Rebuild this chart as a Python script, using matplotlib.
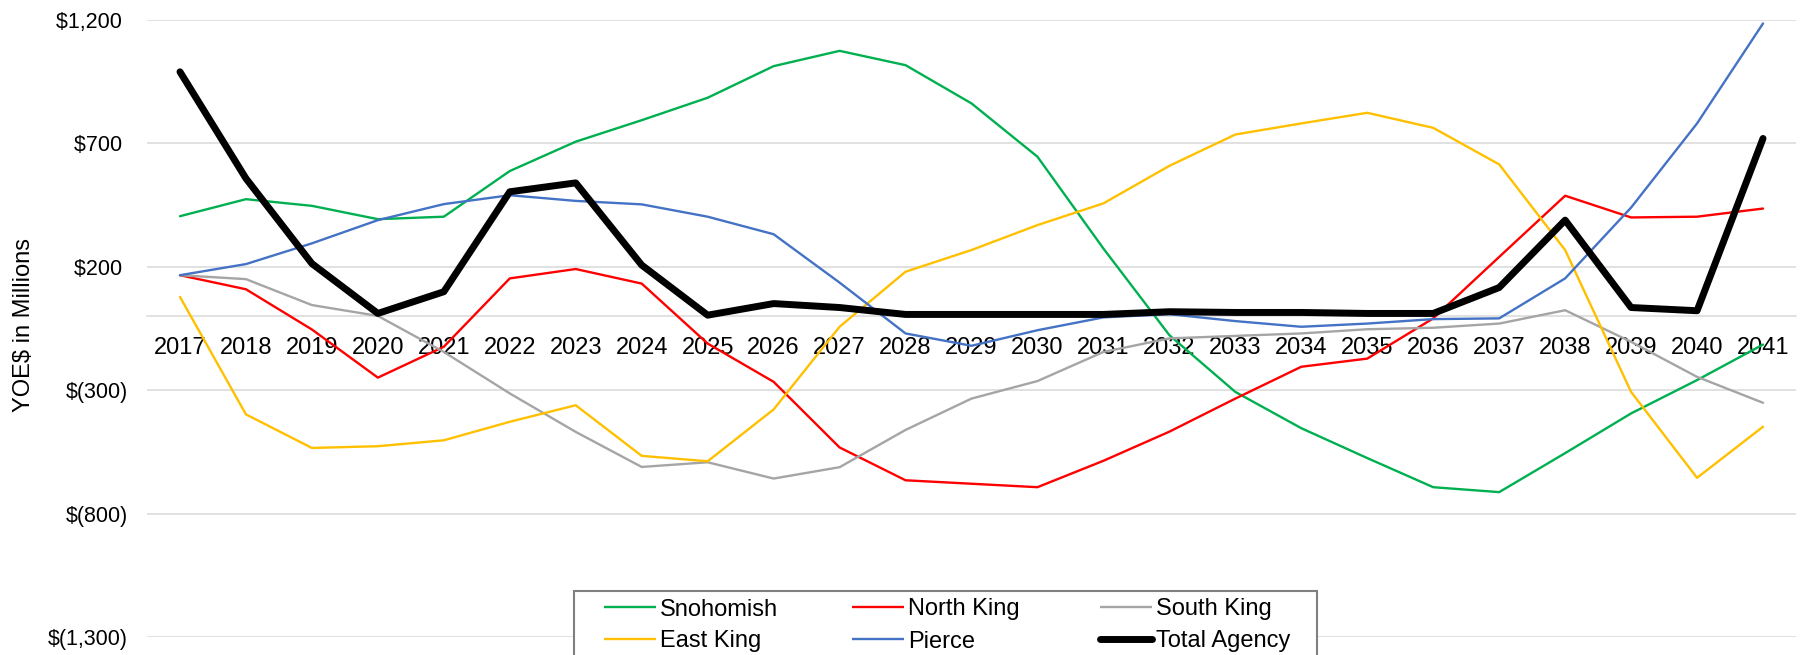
import matplotlib
matplotlib.use("Agg")
import matplotlib.pyplot as plt
from matplotlib.lines import Line2D
from matplotlib.patches import Rectangle
from matplotlib.ticker import FuncFormatter

# ---------------- data ----------------
years = list(range(2017, 2042))
year_labels = [str(y) for y in years]

snohomish = [405, 474, 447, 393, 403, 588, 707, 794, 885, 1013, 1075, 1017, 862,
             646, 274, -77, -307, -454, -575, -693, -713, -555, -394, -259, -115]
north_king = [166, 109, -54, -249, -124, 153, 191, 132, -111, -266, -532, -665, -679,
              -693, -586, -468, -334, -205, -172, -9, 240, 488, 400, 403, 436]
south_king = [166, 150, 45, 1, -145, -313, -469, -611, -592, -658, -612, -461, -334,
              -263, -145, -90, -80, -70, -53, -47, -30, 24, -104, -246, -351]
east_king = [78, -398, -534, -527, -503, -428, -361, -566, -588, -378, -43, 180, 268,
             369, 457, 609, 736, 781, 824, 763, 615, 268, -307, -655, -448]
pierce = [166, 211, 295, 389, 454, 490, 467, 453, 403, 332, 136, -70, -120,
          -57, -5, 8, -20, -43, -30, -12, -9, 153, 440, 781, 1186]
total_agency = [990, 558, 213, 11, 99, 504, 540, 207, 4, 51, 35, 7, 7,
                7, 7, 18, 15, 15, 11, 11, 116, 389, 35, 22, 720]

series_names = ["Snohomish", "North King", "South King", "East King", "Pierce", "Total Agency"]
series_values = [snohomish, north_king, south_king, east_king, pierce, total_agency]
series_colors = ["#00B050", "#FF0000", "#A5A5A5", "#FFC000", "#4472C4", "#000000"]
series_widths = [1.7, 1.7, 1.7, 1.7, 1.7, 5.0]

y_ticks = [-1300, -800, -300, 200, 700, 1200]
y_label = "YOE\\$ in Millions"

# ---------------- style ----------------
plt.rcParams["font.family"] = ["Liberation Sans", "DejaVu Sans"]

W, H = 1807, 655
fig = plt.figure(figsize=(W / 100, H / 100), dpi=100)
fig.patch.set_facecolor("white")


def fx(px):
    return px / W


def fy(py):
    return 1 - py / H


ax = fig.add_axes([fx(147), fy(637), (1796 - 147) / W, (637 - 20) / H])

for name, vals, col, lw in zip(series_names, series_values, series_colors, series_widths):
    ax.plot(years, vals, color=col, lw=lw, solid_capstyle="round",
            solid_joinstyle="round", zorder=3 if name != "Total Agency" else 4)

ax.set_xlim(2016.5, 2041.5)
ax.set_ylim(-1300, 1200)
ax.set_yticks(y_ticks)
ax.set_xticks(years)
ax.set_xticklabels(year_labels)


def money(v, pos=None):
    v = int(round(v))
    if v < 0:
        return "\\$({:,})".format(-v)
    return "\\${:,}\u2008".format(v)


ax.yaxis.set_major_formatter(FuncFormatter(money))
ax.yaxis.grid(True, color="#D9D9D9", lw=1.1)
ax.set_axisbelow(True)

for s in ["top", "right", "left"]:
    ax.spines[s].set_visible(False)
ax.spines["bottom"].set_position(("data", 0))
ax.spines["bottom"].set_color("#D9D9D9")
ax.spines["bottom"].set_linewidth(1.1)
ax.spines["bottom"].set_zorder(1)

ax.tick_params(axis="x", length=0, pad=15, labelsize=17, colors="black")
ax.tick_params(axis="y", length=0, pad=13.5, labelsize=15.5, colors="black")

fig.text(fx(24), fy(325), y_label, rotation=90, ha="center", va="center", fontsize=17)

# ---------------- legend (manual, fixed box) ----------------
fig.add_artist(Rectangle((fx(574), fy(675)), (1317 - 574) / W, (675 - 591) / H,
                         transform=fig.transFigure, facecolor="white",
                         edgecolor="#808080", lw=1.5, zorder=10))
col_x = [604, 852, 1100]
row_y = [607, 639]
for i, (name, col, lw) in enumerate(zip(series_names, series_colors, series_widths)):
    r, c = divmod(i, 3)
    x0 = col_x[c]
    y0 = row_y[r]
    fig.add_artist(Line2D([fx(x0), fx(x0 + 52)], [fy(y0), fy(y0)], color=col, lw=lw,
                          solid_capstyle="round" if lw > 3 else "butt",
                          transform=fig.transFigure, zorder=11))
    fig.text(fx(x0 + 56), fy(y0 + 8.5), name, ha="left", va="baseline",
             fontsize=17, zorder=12)

fig.savefig("out.png", dpi=100, facecolor="white")
